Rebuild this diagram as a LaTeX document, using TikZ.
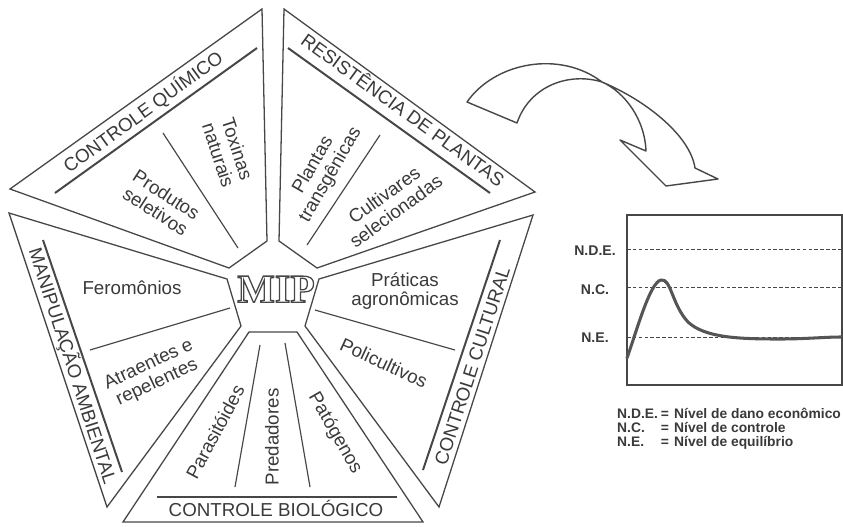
\documentclass[tikz,border=0pt]{standalone}
\usepackage{fontspec}
\setmainfont{Liberation Sans}
\newfontfamily\mipfont{Liberation Serif}
\usetikzlibrary{calc}
\definecolor{ink}{HTML}{474747}
\definecolor{txt}{HTML}{3A3A3A}
\definecolor{crv}{HTML}{555555}
\newcommand\hollowtext[1]{\special{pdf:literal direct 1 Tr 1.1 w}#1\special{pdf:literal direct 0 Tr}}
\begin{document}
\begin{tikzpicture}[x=0.03cm,y=-0.03cm,
  seg/.style={draw=ink, line width=1.1pt, line join=miter},
  ttlline/.style={draw=ink, line width=1.7pt},
  divline/.style={draw=ink, line width=1pt},
  lab/.style={font=\fontsize{16}{17}\selectfont, text=txt, align=center, inner sep=0pt},
  ttl/.style={lab, text height=11.5pt, text depth=0pt},
  mipstyle/.style={font=\mipfont\bfseries\fontsize{34}{34}\selectfont, inner sep=0pt, text height=22.5pt, text depth=0pt},
  arrowline/.style={draw=ink, line width=1.2pt, line join=round, fill=white},
  boxline/.style={draw=ink, line width=1pt},
  dashline/.style={draw=ink, line width=0.6pt, dash pattern=on 3pt off 2pt},
  curveline/.style={draw=crv, line width=2.6pt, line cap=round, line join=round},
  clab/.style={font=\bfseries\fontsize{12}{12}\selectfont, text=txt, inner sep=0pt, text height=8.6pt, text depth=0pt},
  leg/.style={font=\bfseries\fontsize{11.8}{13}\selectfont, text=txt, inner sep=0pt}
]
\useasboundingbox (0,0) rectangle (843,526);
\fill[white] (0,0) rectangle (843,526);

% ---- pentagon segments ----
\draw[seg] (262,9) -- (10,189) -- (229,268) -- (267,241) -- cycle;   % quimico
\draw[seg] (284,9) -- (279,241) -- (317,268) -- (535,192) -- cycle;  % resistencia
\draw[seg] (9,213) -- (227,279) -- (241,326) -- (107,507) -- cycle;  % manipulacao
\draw[seg] (123,522) -- (249,332) -- (297,332) -- (423,522) -- cycle; % biologico
\draw[seg] (533,215) -- (319,279) -- (305,326) -- (439,507) -- cycle; % cultural

% title lines
\draw[ttlline] (55,193) -- (257,48);
\draw[ttlline] (288,48) -- (490,193);
\draw[ttlline] (43,240) -- (122,472);
\draw[ttlline] (157,497) -- (397,497);
\draw[ttlline] (423,470) -- (500,240);

% dividers
\draw[divline] (163,133) -- (238,248);
\draw[divline] (307,245) -- (380,135);
\draw[divline] (90,350) -- (230,308);
\draw[divline] (235,487) -- (260,345);
\draw[divline] (285,343) -- (310,487);
\draw[divline] (315,310) -- (455,350);

% titles
\node[ttl, rotate=36] (tq) at (143,112) {CONTROLE QUÍMICO};
\node[ttl, rotate=-36] (tr) at (403,110) {RESISTÊNCIA DE PLANTAS};
\node[ttl, rotate=-72] (tm) at (73,366) {MANIPULAÇÃO AMBIENTAL};
\node[ttl] (tb) at (276,510) {CONTROLE BIOLÓGICO};
\node[ttl, rotate=72] (tc) at (472,366) {CONTROLE CULTURAL};

% inner texts
\node[lab, rotate=-72] (t1) at (228,152) {Toxinas\\naturais};
\node[lab, rotate=-33] (t2) at (161,203) {Produtos\\seletivos};
\node[lab, rotate=60] (t3) at (322,170) {Plantas\\transgênicas};
\node[lab, rotate=36] (t4) at (390,203) {Cultivares\\selecionadas};
\node[lab] (t5) at (132,288) {Feromônios};
\node[lab, rotate=25] (t6) at (153,374) {Atraentes e\\repelentes};
\node[lab, rotate=62] (t7) at (215,432) {Parasitóides};
\node[lab, rotate=90] (t8) at (272,437) {Predadores};
\node[lab, rotate=-60] (t9) at (335,433) {Patógenos};
\node[lab] (t10) at (405,291) {Práticas\\agronômicas};
\node[lab, rotate=-25] (t11) at (384,363) {Policultivos};

% MIP outlined
\node[mipstyle, text=ink] (mip) at (276,289) {\hollowtext{MIP}};

% ---- curved arrow ----
\draw[arrowline] (467,102) .. controls (495,62) and (560,50) .. (602,82)
  .. controls (645,100) and (690,135) .. (695,168)
  -- (718,179) -- (666,186) -- (620,140) -- (646,151)
  .. controls (645,120) and (625,92) .. (602,82)
  .. controls (570,72) and (530,85) .. (517,123) -- cycle;

% ---- chart ----
\draw[boxline] (627,215) rectangle (842,385);
\draw[dashline] (627,249) -- (842,249);
\draw[dashline] (627,287) -- (842,287);
\draw[dashline] (627,337) -- (842,337);
\node[clab] (nde) at (595,250) {N.D.E.};
\node[clab] (nc) at (595,289) {N.C.};
\node[clab] (ne) at (595,337) {N.E.};
\draw[curveline] (627,358) .. controls (637,330) and (650,282) .. (661,280)
  .. controls (671,278) and (672,305) .. (688,322)
  .. controls (705,338) and (740,339) .. (780,339)
  .. controls (805,339) and (825,337) .. (841,337);

% ---- legend ----
\node[leg, anchor=base west] (l1a) at (617,418) {N.D.E.};
\node[leg, anchor=base] (l1b) at (665,418) {=};
\node[leg, anchor=base west] (l1c) at (674,418) {Nível de dano econômico};
\node[leg, anchor=base west] (l2a) at (617,432) {N.C.};
\node[leg, anchor=base] (l2b) at (665,432) {=};
\node[leg, anchor=base west] (l2c) at (674,432) {Nível de controle};
\node[leg, anchor=base west] (l3a) at (617,446) {N.E.};
\node[leg, anchor=base] (l3b) at (665,446) {=};
\node[leg, anchor=base west] (l3c) at (674,446) {Nível de equilíbrio};
\end{tikzpicture}
\end{document}
